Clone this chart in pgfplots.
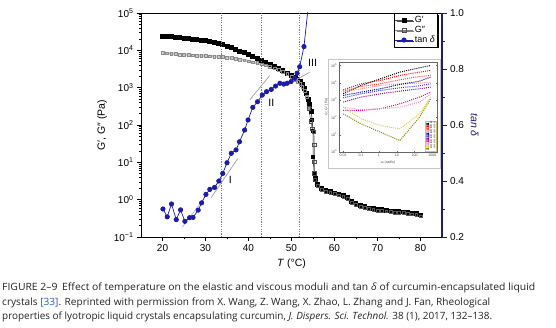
\documentclass[border=0pt]{standalone}
\usepackage{fontspec}
\setmainfont{Liberation Sans}
\newfontfamily\capfont{Open Sans}
\usepackage{graphicx}
\usepackage{pgfplots}
\pgfplotsset{compat=1.18}
\usetikzlibrary{shadows}
\definecolor{tanblue}{RGB}{28,28,165}
\definecolor{navyax}{RGB}{30,30,110}
\definecolor{refpink}{RGB}{232,70,110}
\definecolor{captxt}{RGB}{35,35,35}
\definecolor{refblue}{RGB}{40,90,180}
\begin{document}
\begin{tikzpicture}
\useasboundingbox (0pt,0pt) rectangle (556pt,327pt);
% ---------------- main log axis ----------------
\begin{axis}[
  at={(141pt,90pt)}, anchor=south west, scale only axis,
  width=301pt, height=224pt,
  xmin=15, xmax=85, ymode=log, ymin=0.1, ymax=1e5,
  xtick={20,30,40,50,60,70,80}, xticklabels={20,30,40,50,60,70,80},
  minor xtick={25,35,45,55,65,75},
  ytick={0.1,1,10,100,1000,10000,100000},
  yticklabels={10\textsuperscript{−1},10\textsuperscript{0},10\textsuperscript{1},10\textsuperscript{2},10\textsuperscript{3},10\textsuperscript{4},10\textsuperscript{5}},
  minor ytick={0.2,0.3,0.4,0.5,0.6,0.7,0.8,0.9,2,3,4,5,6,7,8,9,20,30,40,50,60,70,80,90,200,300,400,500,600,700,800,900,2000,3000,4000,5000,6000,7000,8000,9000,20000,30000,40000,50000,60000,70000,80000,90000},
  xtick pos=left, ytick pos=left, tick align=outside,
  major tick length=4pt, minor tick length=2.2pt,
  every tick/.style={black, line width=0.6pt},
  axis line style={line width=0.8pt},
  tick label style={font=\fontsize{10}{12}\selectfont},
  xlabel={\textit{T} (°C)}, ylabel={G′, G″ (Pa)},
  label style={font=\fontsize{10.5}{12}\selectfont},
]
% G' band
\addplot[black, line width=2.2pt, mark=square*, mark size=1.4pt, mark options={solid, black}] coordinates {
(20,24000)(21,23400)(22,22900)(23,22400)(24,21600)(25,20900)(26,20400)(27,19700)(28,19100)(29,18400)(30,17800)(31,17000)(32,16200)(33,15100)(34,14100)(35,12900)(36,11700)(37,10500)(38,9550)(39,8510)(40,7760)(41,6920)(42,6170)(43,5500)(44,4790)(45,4270)(46,3720)(47,3240)(48,2820)(49,2450)(50,2090)(51,1820)(51.5,1640)(52,1480)(52.5,1230)(53,955)(53.5,708)(54,479)(54.3,355)(54.6,224)};
% G' drop
\addplot[black, line width=0.5pt, mark=square*, mark size=1.5pt, mark options={solid, black}] coordinates {
(54.6,224)(54.8,141)(55.0,71)(55.0,14.1)(55.3,5.0)(55.6,3.7)};
% G' tail
\addplot[black, line width=2.2pt, mark=square*, mark size=1.3pt, mark options={solid, black}] coordinates {
(55.6,3.7)(56,2.6)(57,1.95)(58,1.74)(59,1.62)(60,1.51)(61,1.41)(62,1.29)(63,1.12)(64,0.91)(65,0.79)(66,0.71)(67,0.65)(68,0.60)(69,0.575)(70,0.55)(71,0.537)(72,0.525)(73,0.50)(74,0.49)(75,0.48)(76,0.468)(77,0.457)(78,0.437)(79,0.417)(80,0.39)};
% G'' band
\addplot[gray!45, line width=2.4pt, mark=square, mark size=1.4pt, mark options={solid, draw=black!45, line width=0.4pt}] coordinates {
(20,8710)(21,8410)(22,8130)(23,7940)(24,7760)(25,7670)(26,7590)(27,7410)(28,7240)(29,7160)(30,7080)(31,7000)(32,6920)(33,6760)(34,6610)(35,6460)(36,6310)(37,6030)(38,5750)(39,5430)(40,5130)(41,4840)(42,4570)(43,4270)(44,3980)(45,3630)(46,3310)(47,3020)(48,2690)(49,2340)(50,2000)(51,1660)(51.5,1480)(52,1260)(52.5,1050)(53,832)(53.5,575)(54,282)};
% G'' drop
\addplot[black!70, line width=0.5pt, mark=square, mark size=1.6pt, mark options={solid, draw=black!70, fill=white, line width=0.4pt}] coordinates {
(54,282)(54.5,126)(54.8,81)(55.2,66)(55.3,29)(55.3,10.5)(55.3,5.1)(55.4,3.4)(56,2.34)};
% G'' tail
\addplot[gray!50, line width=2pt, mark=square, mark size=1.4pt, mark options={solid, draw=black!65, fill=white, line width=0.4pt}] coordinates {
(56,2.34)(57,1.82)(58,1.62)(59,1.51)(60,1.41)(61,1.32)(62,1.20)(63,1.05)(64,0.85)(65,0.74)(66,0.66)(67,0.60)(68,0.56)(69,0.537)(70,0.513)(71,0.50)(72,0.49)(73,0.468)(74,0.457)(75,0.447)(76,0.437)(77,0.427)(78,0.407)(79,0.389)(80,0.363)};
\end{axis}
% ---------------- tan delta axis ----------------
\begin{axis}[
  at={(141pt,90pt)}, anchor=south west, scale only axis,
  width=301pt, height=224pt,
  xmin=15, xmax=85, ymin=0.2, ymax=1.0,
  axis x line=none, axis y line*=right,
  ytick={0.2,0.4,0.6,0.8,1.0}, yticklabels={0.2,0.4,0.6,0.8,1.0},
  minor ytick={0.3,0.5,0.7,0.9},
  tick align=outside, major tick length=4.5pt, minor tick length=3pt,
  every tick/.style={navyax, line width=0.8pt},
  y axis line style={navyax, line width=1.3pt},
  tick label style={font=\fontsize{10}{12}\selectfont},
  ylabel={\textit{tan δ}}, ylabel style={navyax, rotate=180, font=\fontsize{10.5}{12}\selectfont},
  legend cell align=left,
  legend style={at={(0.988,1.0)}, anchor=north east, draw=black, line width=0.9pt, fill=white,
    font=\fontsize{9}{10}\selectfont, inner sep=1pt, row sep=-2pt,
    drop shadow={shadow xshift=1.3pt, shadow yshift=-1.3pt, fill=black, opacity=1}},
]
\addlegendimage{black!70, line width=0.6pt, mark=square*, mark size=2pt, mark options={black, solid}}
\addlegendentry{G′}
\addlegendimage{gray, line width=0.6pt, mark=square, mark size=2pt, mark options={black!70, solid}}
\addlegendentry{G″}
% vertical dotted lines
\addplot[color=refpink, dash pattern=on 1.2pt off 1.2pt, line width=0.9pt, forget plot] coordinates {(33.6,0.2)(33.6,1.0)};
\addplot[color=refpink, dash pattern=on 1.2pt off 1.2pt, line width=0.9pt, forget plot] coordinates {(43.0,0.2)(43.0,1.0)};
\addplot[color=refpink, dash pattern=on 1.2pt off 1.2pt, line width=0.9pt, forget plot] coordinates {(51.9,0.2)(51.9,1.0)};
% fit / tangent lines
\addplot[color=blue!40, line width=0.5pt, forget plot] coordinates {(24.6,0.235)(29.5,0.335)};
\addplot[color=gray!75, line width=0.7pt, forget plot] coordinates {(31.3,0.340)(37.5,0.480)};
\addplot[color=gray!75, line width=0.7pt, forget plot] coordinates {(40.3,0.690)(44.9,0.776)};
\addplot[color=gray!75, line width=0.7pt, forget plot] coordinates {(50.5,0.757)(54.2,0.788)};
% tan delta
\addplot[color=tanblue, line width=0.7pt, mark=*, mark size=2.2pt, mark options={solid, fill=tanblue}] coordinates {
(20.1,0.300)(21.1,0.272)(22.1,0.318)(23.2,0.262)(24.2,0.297)(25.2,0.256)(26.3,0.269)(27.1,0.270)(28.3,0.296)(29.1,0.322)(30.1,0.352)(31.0,0.370)(32.1,0.377)(33.1,0.400)(34.0,0.427)(35.0,0.465)(36.0,0.499)(37.1,0.511)(37.9,0.540)(39.1,0.582)(39.9,0.618)(41.0,0.663)(42.1,0.683)(43.2,0.707)(44.2,0.719)(45.3,0.727)(46.3,0.739)(47.3,0.749)(48.2,0.746)(49.0,0.749)(49.9,0.755)(50.7,0.767)(51.3,0.785)(51.9,0.808)(52.9,0.880)(54.3,1.080)};
\addlegendentry{tan \textit{δ}}
\node[font=\fontsize{10.5}{12}\selectfont] at (axis cs:35.8,0.404) {I};
\node[font=\fontsize{10.5}{12}\selectfont] at (axis cs:45.3,0.680) {II};
\node[font=\fontsize{10.5}{12}\selectfont] at (axis cs:54.9,0.822) {III};
\end{axis}
% ---------------- inset ----------------
\draw[gray!45, line width=0.4pt] (328pt,159pt) rectangle (440pt,268pt);
\begin{axis}[
  at={(339pt,175pt)}, anchor=south west, scale only axis,
  width=98pt, height=90pt,
  xmode=log, ymode=log, xmin=0.0058, xmax=1800, ymin=1, ymax=158000,
  axis background/.style={fill=white},
  xtick={0.01,0.1,1,10,100,1000}, xticklabels={0.01,0.1,1,10,100,1000},
  ytick={1,10,100,1000,10000,100000},
  yticklabels={10\textsuperscript{0},10\textsuperscript{1},10\textsuperscript{2},10\textsuperscript{3},10\textsuperscript{4},10\textsuperscript{5}},
  tick label style={font=\fontsize{3.6}{4}\selectfont, black!70},
  xticklabel style={yshift=1.5pt}, yticklabel style={xshift=1.5pt},
  axis line style={black!60, line width=0.4pt},
  major tick length=1.5pt, minor tick length=0pt,
  every tick/.style={black!60, line width=0.3pt},
  xlabel={\textit{ω} (rad/s)}, ylabel={G′, G″ (Pa)},
  label style={font=\fontsize{3.6}{4}\selectfont, black!70},
  xlabel style={yshift=3pt}, ylabel style={yshift=-4pt},
  legend cell align=left,
  legend style={at={(0.995,0.01)}, anchor=south east, draw=olive!45, line width=0.3pt,
    font=\fontsize{2.4}{2.6}\selectfont, inner sep=0.4pt, row sep=-1.3pt,
    nodes={inner sep=0.3pt}},
  legend image code/.code={\fill[#1] (0.6pt,0pt) circle (0.55pt); \fill[#1] (2.0pt,0pt) circle (0.55pt);},
  every axis plot/.append style={line width=1pt, dash pattern=on 1pt off 1.1pt},
]
\addplot[color=black] coordinates {(0.01,2300)(0.1,6980)(1.2,16900)(15,41200)(190,73300)(800,100000)};
\addplot[color=red] coordinates {(0.01,3920)(0.1,8710)(1.2,13600)(15,26400)(190,41200)(800,51400)};
\addplot[color=red!75!white] coordinates {(0.01,3280)(0.1,6110)(1.2,8710)(15,14800)(190,23100)(800,26400)};
\addplot[color=red!45!white] coordinates {(0.01,2880)(0.1,4480)(1.2,6980)(15,8710)(190,9530)(800,10900)};
\addplot[color=blue!50!black] coordinates {(0.01,1850)(0.1,2880)(1.2,4480)(15,7980)(190,12400)(800,21200)};
\addplot[color=blue!80!white] coordinates {(0.01,1350)(0.1,2300)(1.2,3590)(15,5120)(190,6680)(800,8710)};
\addplot[color=violet] coordinates {(0.01,760)(0.1,1480)(1.2,2300)(15,3280)(190,4480)(800,5600)};
\addplot[color=magenta] coordinates {(0.01,251)(0.1,251)(1.2,313)(15,608)(190,1480)(800,2880)};
\addplot[color=magenta!45!white] coordinates {(0.01,391)(0.1,274)(1.2,313)(15,391)(190,760)(800,2300)};
\addplot[color=yellow!85!black] coordinates {(0.01,391)(0.1,82.6)(1.2,34.0)(15,21.8)(190,161)(800,1480)};
\addplot[color=olive] coordinates {(0.01,161)(0.1,42.5)(1.2,14.0)(15,4.62)(190,103)(800,1180)};
\legend{25 °C,30 °C,35 °C,40 °C,45 °C,50 °C,55 °C,60 °C,65 °C,70 °C,75 °C}
\end{axis}
% ---------------- caption ----------------
\node[anchor=base west, inner sep=0pt, text=captxt, font=\capfont\fontsize{10}{12}\selectfont] at (2pt,37pt)
  {\resizebox{533pt}{\height}{FIGURE 2–9\hspace{0.45em}Effect of temperature on the elastic and viscous moduli and tan \textit{δ} of curcumin-encapsulated liquid}};
\node[anchor=base west, inner sep=0pt, text=captxt, font=\capfont\fontsize{10}{12}\selectfont] at (2pt,22pt)
  {\resizebox{488pt}{\height}{crystals \textcolor{refblue}{[33]}. Reprinted with permission from X. Wang, Z. Wang, X. Zhao, L. Zhang and J. Fan, Rheological}};
\node[anchor=base west, inner sep=0pt, text=captxt, font=\capfont\fontsize{10}{12}\selectfont] at (2pt,7.5pt)
  {\resizebox{490pt}{\height}{properties of lyotropic liquid crystals encapsulating curcumin, \textit{J. Dispers. Sci. Technol.} 38 (1), 2017, 132–138.}};
\end{tikzpicture}
\end{document}
